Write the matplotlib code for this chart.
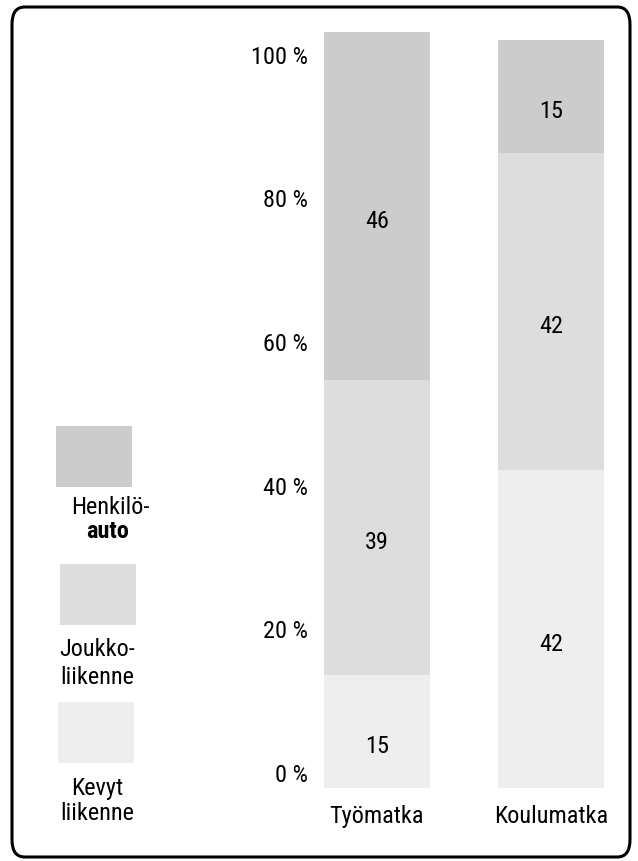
import matplotlib
matplotlib.use("Agg")
import matplotlib.pyplot as plt
from matplotlib.patches import FancyBboxPatch, Rectangle
import numpy as np

plt.rcParams['font.family'] = ['Roboto Condensed', 'Liberation Sans', 'DejaVu Sans']

categories = ["Työmatka", "Koulumatka"]
series_names = ["Kevyt liikenne", "Joukkoliikenne", "Henkilöauto"]
kevyt = [15, 42]
joukko = [39, 42]
auto = [46, 15]
colors = ["#eeeeee", "#dddddd", "#cccccc"]
tick_values = [0, 20, 40, 60, 80, 100]
tick_labels = ["0 %", "20 %", "40 %", "60 %", "80 %", "100 %"]

FS = 17.5
W, H = 638, 861
fig = plt.figure(figsize=(W / 100, H / 100), dpi=100)

# frame
frame = FancyBboxPatch((12 / W, 4 / H), 618 / W, 850 / H,
                       boxstyle="round,pad=0,rounding_size=0.02",
                       transform=fig.transFigure, fill=False,
                       edgecolor="black", linewidth=2.2)
fig.add_artist(frame)

ax = fig.add_axes([323 / W, (H - 788) / H, (605 - 323) / W, 756 / H])
x = np.arange(len(categories))
bottom = np.zeros(len(categories))
width = 0.61
for vals, col in zip([kevyt, joukko, auto], colors):
    vals = np.array(vals, dtype=float)
    ax.bar(x, vals, width, bottom=bottom, color=col, edgecolor="none")
    for xi, b, v in zip(x, bottom, vals):
        ax.annotate(f"{int(v)}", (xi, b + v / 2), xytext=(0, -11),
                    textcoords="offset points", ha="center", va="center",
                    fontsize=FS)
    bottom += vals

ax.set_xlim(-0.31, 1.31)
ax.set_ylim(0, 100)
# tick labels sit on a slightly compressed scale relative to bars
ax.set_yticks([2 + 0.95 * v for v in tick_values])
ax.set_yticklabels(tick_labels, fontsize=FS)
ax.set_xticks(x)
ax.set_xticklabels(categories, fontsize=FS)
ax.tick_params(axis='y', length=0, pad=11)
ax.tick_params(axis='x', length=0, pad=12)
for s in ax.spines.values():
    s.set_visible(False)

# legend
legend_items = [
    (colors[2], 56, 426, [("Henkilö-", "normal", 110, 508), ("auto", "bold", 108, 532)]),
    (colors[1], 60, 564, [("Joukko-", "normal", 97, 650), ("liikenne", "normal", 97, 677)]),
    (colors[0], 58, 702, [("Kevyt", "normal", 97, 789), ("liikenne", "normal", 97, 813)]),
]
for col, lx, ly, labels in legend_items:
    fig.add_artist(Rectangle((lx / W, (H - ly - 61) / H), 76 / W, 61 / H,
                             transform=fig.transFigure, facecolor=col,
                             edgecolor="none"))
    for txt, wt, tx, ty in labels:
        fig.text(tx / W, (H - ty) / H, txt, ha="center", va="center",
                 fontsize=FS, fontweight=wt)

fig.savefig("out.png", dpi=100)
